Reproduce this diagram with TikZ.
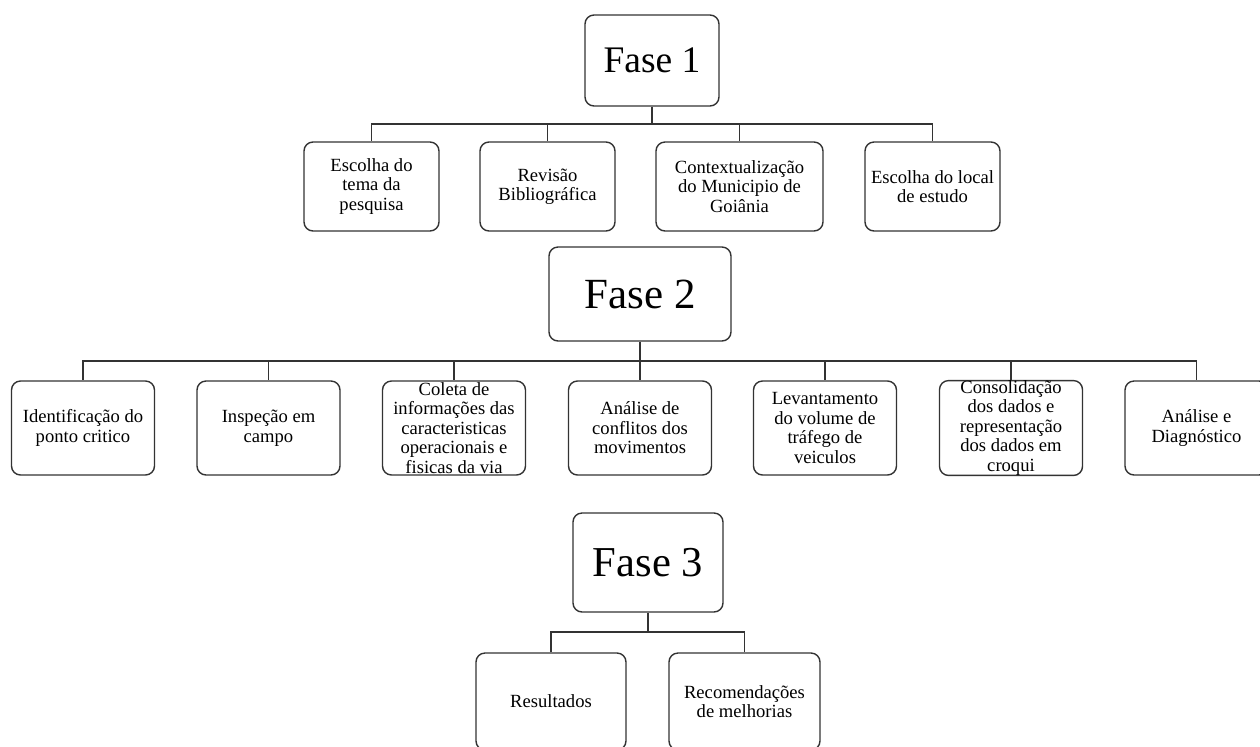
\documentclass[tikz,border=0pt]{standalone}
\usepackage{fontspec}
\setmainfont{Liberation Serif}
\usepackage{tikz}
\usetikzlibrary{positioning, calc}

\begin{document}
\begin{tikzpicture}[x=0.5pt, y=-0.5pt,
        fase/.style={draw=black!80, line width=0.7pt, rounded corners=4.5pt, fill=white, align=center, inner sep=0pt},
        etapa/.style={draw=black!80, line width=0.7pt, rounded corners=4.5pt, fill=white, align=center, inner sep=0pt,
            minimum width=#1, font=\fontsize{9.3}{9.75}\selectfont},
        etapa/.default=67.5pt,
        liga/.style={draw=black!80, line width=0.55pt}]

            \useasboundingbox (0,0) rectangle (1260,746);

            % Fase 1
            \node[fase, minimum width=67pt, minimum height=45.5pt, font=\fontsize{18.75}{20}\selectfont] (f1) at (652,60.5) {Fase 1};

            \node[etapa, minimum height=44.5pt] (a1) at (371.5,186.5) {Escolha do\\tema da\\pesquisa};
            \node[etapa, minimum height=44.5pt] (a2) at (547.5,186.5) {Revisão\\Bibliográfica};
            \node[etapa=83.5pt, minimum height=44.5pt] (a3) at (739.5,186.5) {Contextualização\\do Municipio de\\Goiânia};
            \node[etapa, minimum height=44.5pt] (a4) at (932.5,186.5) {Escolha do local\\de estudo};

            \coordinate (b1) at (0,124);
            \draw[liga] (f1.south) -- (f1.south |- b1);
            \foreach \n in {a1,a2,a3,a4}
                \draw[liga] (f1.south |- b1) -| (\n.north);

            % Fase 2
            \node[fase, minimum width=91pt, minimum height=47pt, font=\fontsize{21.5}{23}\selectfont] (f2) at (640,294) {Fase 2};

            \node[etapa=71.5pt, minimum height=47pt] (c1) at (83,428) {Identificação do\\ponto critico};
            \node[etapa=71.5pt, minimum height=47pt] (c2) at (268.5,428) {Inspeção em\\campo};
            \node[etapa=71.5pt, minimum height=47pt] (c3) at (454,428) {Coleta de\\informações das\\caracteristicas\\operacionais e\\fisicas da via};
            \node[etapa=71.5pt, minimum height=47pt] (c4) at (640,428) {Análise de\\conflitos dos\\movimentos};
            \node[etapa=71.5pt, minimum height=47pt] (c5) at (825,428) {Levantamento\\do volume de\\tráfego de\\veiculos};
            \node[etapa=71.5pt, minimum height=47pt] (c6) at (1011,428) {Consolidação\\dos dados e\\representação\\dos dados em\\croqui};
            \node[etapa=71.5pt, minimum height=47pt] (c7) at (1196.5,428) {Análise e\\Diagnóstico};

            \coordinate (b2) at (0,361);
            \draw[liga] (f2.south) -- (f2.south |- b2);
            \foreach \n in {c1,c2,c3,c4,c5,c6,c7}
                \draw[liga] (f2.south |- b2) -| (\n.north);

            % Fase 3
            \node[fase, minimum width=75pt, minimum height=49.5pt, font=\fontsize{21.3}{23}\selectfont] (f3) at (648,562.5) {Fase 3};

            \node[etapa=75pt, minimum height=48.5pt] (r1) at (551,701.5) {Resultados};
            \node[etapa=75.5pt, minimum height=48.5pt] (r2) at (744.5,701.5) {Recomendações\\de melhorias};

            \coordinate (b3) at (0,632);
            \draw[liga, line width=1pt] (f3.south) -- (f3.south |- b3);
            \foreach \n in {r1,r2}
                \draw[liga] (f3.south |- b3) -| (\n.north);
        \end{tikzpicture}
\end{document}
